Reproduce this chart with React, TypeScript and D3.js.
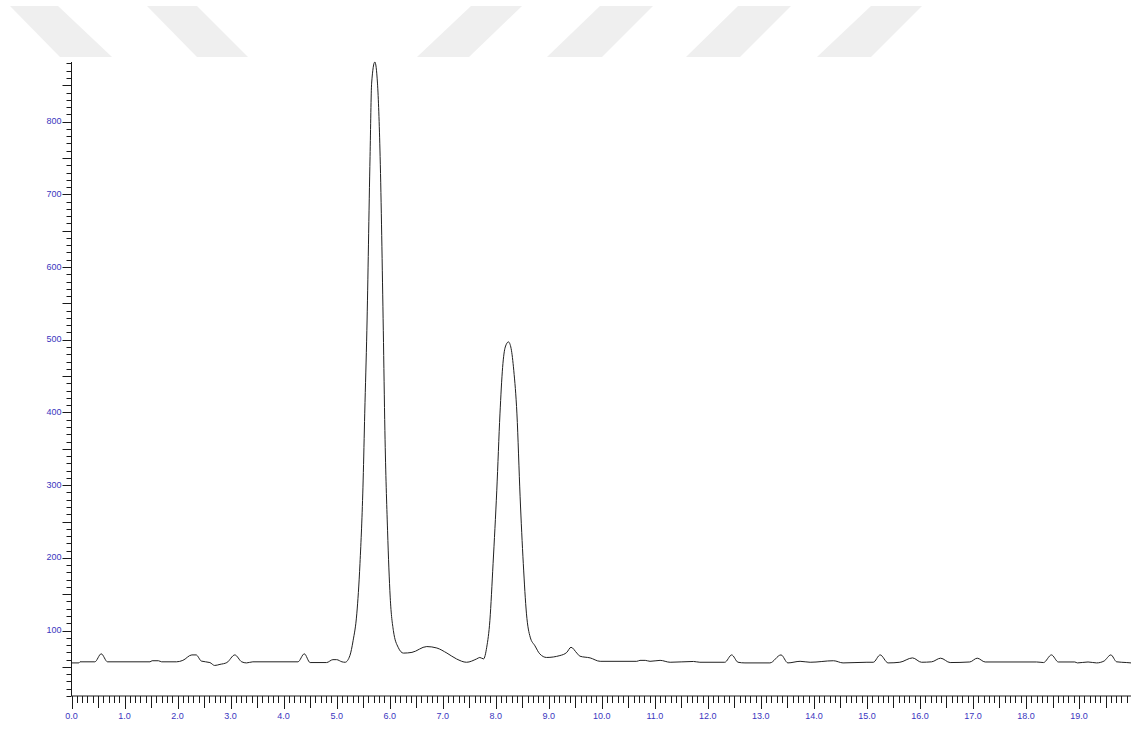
import React from "react";
import * as d3 from "d3";

// retention time (min) and detector response
const times = [
  0.0, 0.14, 0.16, 0.44, 0.56, 0.68, 1.48, 1.52, 1.64, 1.7, 1.98, 2.1, 2.27, 2.35, 2.45, 2.61, 2.7, 2.8,
  2.93, 3.08, 3.21, 3.3, 3.42, 4.27, 4.39, 4.5, 4.81, 4.93, 5.0, 5.1, 5.16, 5.25, 5.31, 5.38, 5.44, 5.5,
  5.53, 5.57, 5.63, 5.66, 5.72, 5.77, 5.82, 5.88, 5.91, 5.96, 6.01, 6.07, 6.16, 6.26, 6.42, 6.7, 6.89,
  7.08, 7.26, 7.45, 7.64, 7.7, 7.77, 7.83, 7.89, 7.95, 8.02, 8.08, 8.13, 8.18, 8.24, 8.29, 8.34, 8.4,
  8.46, 8.52, 8.58, 8.65, 8.74, 8.83, 8.96, 9.21, 9.34, 9.42, 9.53, 9.59, 9.78, 9.97, 10.66, 10.72,
  10.82, 10.91, 11.1, 11.29, 11.73, 11.85, 12.32, 12.45, 12.57, 12.7, 13.17, 13.38, 13.51, 13.74, 13.93,
  14.37, 14.55, 15.0, 15.12, 15.25, 15.4, 15.62, 15.86, 16.03, 16.22, 16.39, 16.57, 16.94, 17.08, 17.23,
  18.2, 18.33, 18.48, 18.61, 18.92, 18.97, 19.17, 19.33, 19.47, 19.6, 19.71, 19.9, 19.98,
];
const signal = [
  55.5, 55.5, 57, 57, 68, 57, 57, 58.5, 58.5, 57, 57, 59, 66.5, 66.5, 58, 56, 52, 53.5,
  56, 66.5, 57, 55.5, 57, 57, 68, 56, 56, 60, 60, 57, 56.4, 65.6, 86, 123, 192, 307,
  399, 513, 752, 853, 882, 853, 752, 513, 375, 238, 146, 100, 77, 69, 70, 78, 76,
  69, 61, 56.4, 61, 63, 61, 77, 114, 192, 293, 398, 462, 490, 497, 488, 458, 398,
  284, 192, 123, 91, 79, 68, 63, 65.6, 70, 77, 69, 64.7, 62.4, 57.7, 57.7, 59,
  59, 57.7, 59, 56.4, 57.5, 56.4, 56.4, 66.5, 56.4, 55.5, 55.5, 66.5, 55.5, 57.7, 56.4,
  58.5, 55.5, 56.4, 56.4, 66.5, 55.5, 56.4, 62.4, 56.4, 57, 62, 56, 56.8, 62, 56.8,
  56.8, 56, 66.5, 56.8, 56.8, 55.5, 56.8, 55.5, 58, 66.5, 57, 56, 55.5,
];

const xLabels = d3.range(0, 20); // 0.0 ... 19.0
const yLabels = [100, 200, 300, 400, 500, 600, 700, 800];
const xMinor = d3.range(0, 200).map((i) => i / 10); // every 0.1 min
const yMinor = d3.range(1, 89).map((i) => i * 10); // every 10 units

// faint watermark bands across the top
const stripes = [
  "10,6 58,6 112,57 60,57",
  "147,6 197,6 248,57 197,57",
  "471,6 522,6 469,57 417,57",
  "600,6 653,6 602,57 547,57",
  "738,6 791,6 740,57 686,57",
  "871,6 922,6 871,57 817,57",
];

const W = 1137;
const H = 738;
const left = 71.5;
const right = 1131;
const top = 62;
const bottom = 696;

export default function App() {
  const x = d3.scaleLinear().domain([0, 19.98]).range([left, right]);
  const y = d3.scaleLinear().domain([10, 882]).range([bottom, top]);
  const pts: [number, number][] = times.map((t, i) => [t, signal[i]]);
  const line = d3
    .line<[number, number]>()
    .x((d) => x(d[0]))
    .y((d) => y(d[1]))
    .curve(d3.curveMonotoneX);

  const labelColor = "#3a36c0";
  const axisColor = "#1a1a1a";
  const font = "'Liberation Sans', Arial, sans-serif";

  return (
    <svg
      width={W}
      height={H}
      style={{ position: "absolute", left: 0, top: 0, background: "#fff" }}
    >
      {stripes.map((p, i) => (
        <polygon key={i} points={p} fill="#efefef" />
      ))}

      {/* y axis */}
      <line x1={left} x2={left} y1={top} y2={bottom} stroke={axisColor} />
      {yMinor.map((v) => {
        const yy = Math.round(y(v)) + 0.5;
        const len = v % 50 === 0 ? 9 : 5;
        return (
          <line key={v} x1={left - len} x2={left} y1={yy} y2={yy} stroke={axisColor} />
        );
      })}
      {yLabels.map((v) => (
        <text
          key={v}
          x={left - 10}
          y={y(v) + 2.5}
          textAnchor="end"
          fontSize={9}
          fontFamily={font}
          fill={labelColor}
        >
          {v}
        </text>
      ))}

      {/* x axis */}
      <line x1={left} x2={right} y1={bottom} y2={bottom} stroke={axisColor} />
      {xMinor.map((t, i) => {
        const xx = Math.round(x(t)) + 0.5;
        if (xx > right) return null;
        const len = i % 10 === 0 ? 13 : i % 5 === 0 ? 12 : 7;
        return (
          <line key={i} x1={xx} x2={xx} y1={bottom} y2={bottom + len} stroke={axisColor} />
        );
      })}
      {xLabels.map((t) => (
        <text
          key={t}
          x={x(t)}
          y={bottom + 23}
          textAnchor="middle"
          fontSize={9}
          fontFamily={font}
          fill={labelColor}
        >
          {t.toFixed(1)}
        </text>
      ))}

      {/* trace */}
      <path d={line(pts) || ""} fill="none" stroke="#202020" strokeWidth={1} />
    </svg>
  );
}
